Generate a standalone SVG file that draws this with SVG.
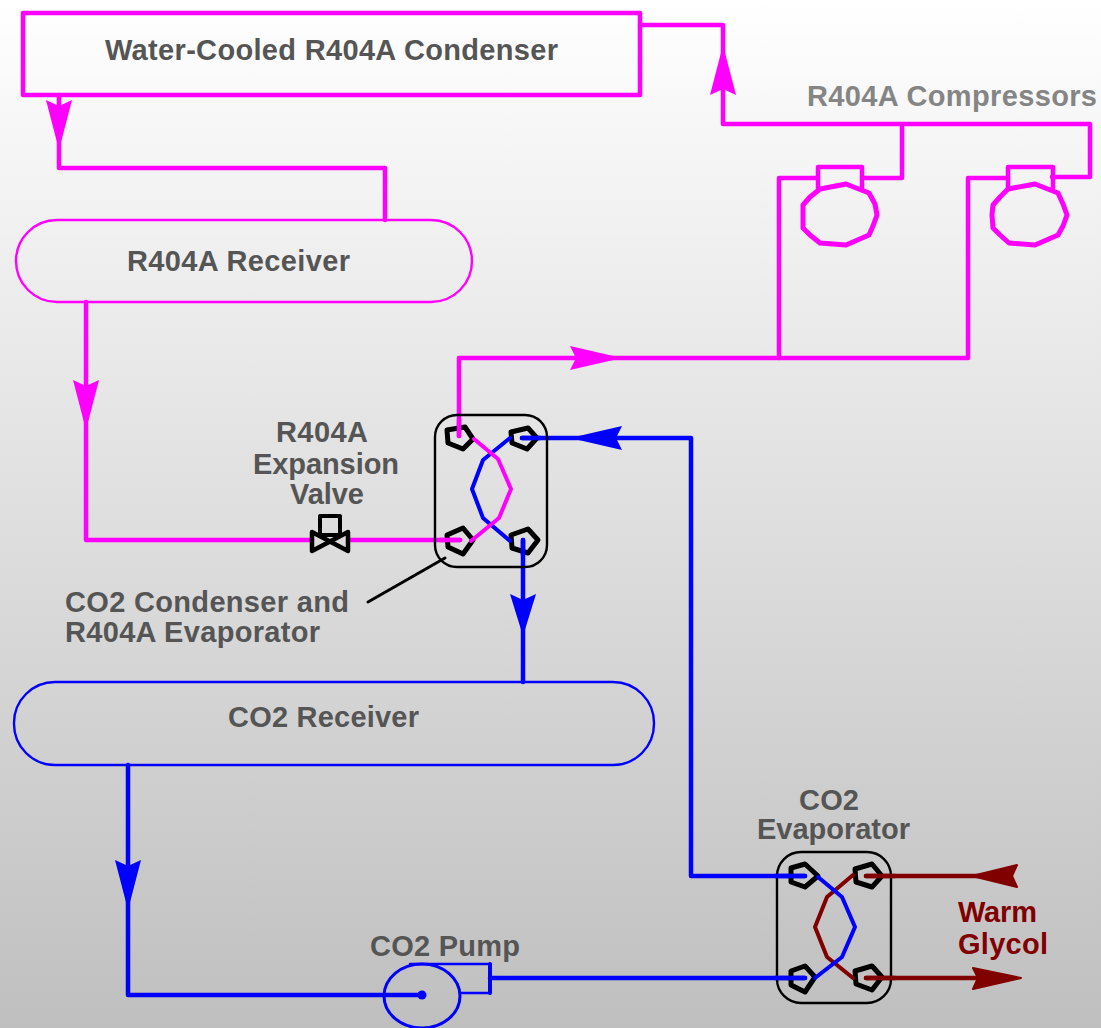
<svg xmlns="http://www.w3.org/2000/svg" width="1101" height="1028" viewBox="0 0 1101 1028">
<defs>
<linearGradient id="bg" x1="0" y1="0" x2="0" y2="1"><stop offset="0" stop-color="#ffffff"/><stop offset="0.1" stop-color="#f8f8f8"/><stop offset="1" stop-color="#bfbfbf"/></linearGradient>
</defs>
<style>
text{font-family:"Liberation Sans",Arial,sans-serif;font-weight:bold;font-size:29px;fill:#555555}
.lt{fill:#858585}.dr{fill:#800000}
.m,.b,.r,.k,.t{fill:none;stroke-linejoin:round;stroke-linecap:round}
.m{stroke:#ff00ff;stroke-width:4.5}.b{stroke:#0000ff;stroke-width:4.5}.r{stroke:#800000;stroke-width:4.5}.k{stroke:#000000;stroke-width:5}
.t{stroke-width:2.4}
.mf{fill:#ff00ff}.bf{fill:#0000ff}.rf{fill:#800000;stroke:#800000;stroke-width:2;stroke-linejoin:round}
.box{fill:none;stroke:#000000;stroke-width:2.4}
</style>
<rect width="1101" height="1028" fill="url(#bg)"/>
<g id="connectors">
<path class="m" d="M59 95V168H385V220"/>
<path class="m" d="M640 25H723V124H1090V177H1052"/>
<path class="m" d="M902 124V178H862"/>
<path class="m" d="M818 178H779V358"/>
<path class="m" d="M459 436V358H968V178H1008"/>
<path class="m" d="M86 302V540H312"/>
<path class="m" d="M349 540H460"/>
<path class="b" d="M522 438H691V876H805"/>
<path class="b" d="M523 540V682"/>
<path class="b" d="M128 765V995H422"/>
<path class="b" d="M490 978H805"/>
<path class="r" d="M866 876H1000"/>
<path class="r" d="M866 978H1000"/>
<path class="k" style="stroke-width:3" d="M368 602L445 558"/>
<polygon class="mf" points="59,150 46,100 59,106 72,100"/>
<polygon class="mf" points="723,45 710,95 723,89 736,95"/>
<polygon class="mf" points="622,358 570,346 576,358 570,370"/>
<polygon class="mf" points="86,430 73,380 86,386 99,380"/>
<polygon class="bf" points="570,438 622,426 616,438 622,450"/>
<polygon class="bf" points="523,636 510,594 523,600 536,594"/>
<polygon class="bf" points="128,910 115,860 128,866 141,860"/>
<polygon class="rf" points="972,876 1017,865 1012,876 1017,887"/>
<polygon class="rf" points="1021,978 973,968 978,978 973,989"/>
</g>
<g id="condenser">
<rect class="m" x="23" y="13" width="617" height="82"/>
<text x="105" y="60" textLength="453" lengthAdjust="spacing">Water-Cooled R404A Condenser</text>
</g>
<g id="compressors">
<text class="lt" x="807" y="106" textLength="290" lengthAdjust="spacing">R404A Compressors</text>
<path class="m" d="M818 188V167H862V188"/>
<polygon class="m" style="stroke-width:5" points="820,189 846,184 869,193 875,204 877,215 873,226 869,235 846,245 820,243 810,235 803,228 803,205 810,197"/>
<path class="m" d="M1008 188V167H1053V188"/>
<polygon class="m" style="stroke-width:5" points="1008,189 1035,184 1058,193 1063,204 1067,215 1063,226 1058,235 1035,245 1009,243 1000,235 993,228 992,215 993,205 1000,197"/>
</g>
<g id="r404a-receiver">
<rect class="m t" x="16" y="220" width="456" height="82" rx="41"/>
<text x="127" y="271" textLength="223" lengthAdjust="spacing">R404A Receiver</text>
</g>
<g id="expansion-valve">
<text x="276" y="442" textLength="92" lengthAdjust="spacing">R404A</text>
<text x="253" y="474" textLength="146" lengthAdjust="spacing">Expansion</text>
<text x="290" y="504" textLength="74" lengthAdjust="spacing">Valve</text>
<rect class="k" style="stroke-width:4" x="320" y="516" width="20" height="19"/>
<polygon class="k" style="stroke-width:4.5" points="312,532 348,551 348,532 312,551"/>
</g>
<g id="co2-condenser">
<rect class="box" x="435" y="415" width="112" height="152" rx="22"/>
<polygon class="k" points="447,430 465,427 473,439 463,449 448,443"/>
<polygon class="k" points="511,432 528,428 537,438 527,449 512,443"/>
<polygon class="k" points="447,535 463,528 473,540 463,554 448,547"/>
<polygon class="k" points="511,535 528,529 538,540 528,553 512,548"/>
<polyline class="b" style="stroke-width:4" points="510,438 483,460 472,489 483,518 510,541"/>
<polyline class="m" style="stroke-width:4" points="474,439 498,459 511,489 499,518 471,541"/>
<path class="m" d="M459 436V420"/>
<path class="b" d="M522 438H540"/>
<path class="m" d="M440 540H460"/>
<path class="b" d="M523 540V555"/>
<text x="65" y="612" textLength="284" lengthAdjust="spacing">CO2 Condenser and</text>
<text x="65" y="642" textLength="255" lengthAdjust="spacing">R404A Evaporator</text>
</g>
<g id="co2-receiver">
<rect class="b t" x="14" y="682" width="640" height="83" rx="41"/>
<text x="228" y="727" textLength="191" lengthAdjust="spacing">CO2 Receiver</text>
</g>
<g id="co2-pump">
<text x="370" y="956" textLength="150" lengthAdjust="spacing">CO2 Pump</text>
<ellipse class="b" style="stroke-width:3" cx="422" cy="996" rx="38" ry="32"/>
<path class="b" style="stroke-width:2.5" d="M410 964H490V993H460"/>
<path class="b" style="stroke-width:4" d="M490 964V993"/>
<circle class="bf" cx="422" cy="995" r="4.5"/>
</g>
<g id="co2-evaporator">
<text x="799" y="810" textLength="60" lengthAdjust="spacing">CO2</text>
<text x="757" y="839" textLength="153" lengthAdjust="spacing">Evaporator</text>
<rect class="box" x="777" y="852" width="114" height="151" rx="24"/>
<polygon class="k" points="791,868 805,864 818,876 805,887 791,882"/>
<polygon class="k" points="855,869 872,864 882,876 872,887 856,882"/>
<polygon class="k" points="791,971 805,966 815,977 805,992 791,985"/>
<polygon class="k" points="855,971 872,966 882,977 872,990 856,984"/>
<polyline class="r" style="stroke-width:4" points="853,875 827,897 815,927 827,957 853,978"/>
<polyline class="b" style="stroke-width:4" points="818,877 842,897 855,927 842,957 815,978"/>
<path class="b" d="M775 876H805M775 978H805"/>
<path class="r" d="M866 876H895M866 978H895"/>
</g>
<g id="warm-glycol">
<text class="dr" x="958" y="922" textLength="79" lengthAdjust="spacing">Warm</text>
<text class="dr" x="958" y="954" textLength="90" lengthAdjust="spacing">Glycol</text>
</g>
</svg>
